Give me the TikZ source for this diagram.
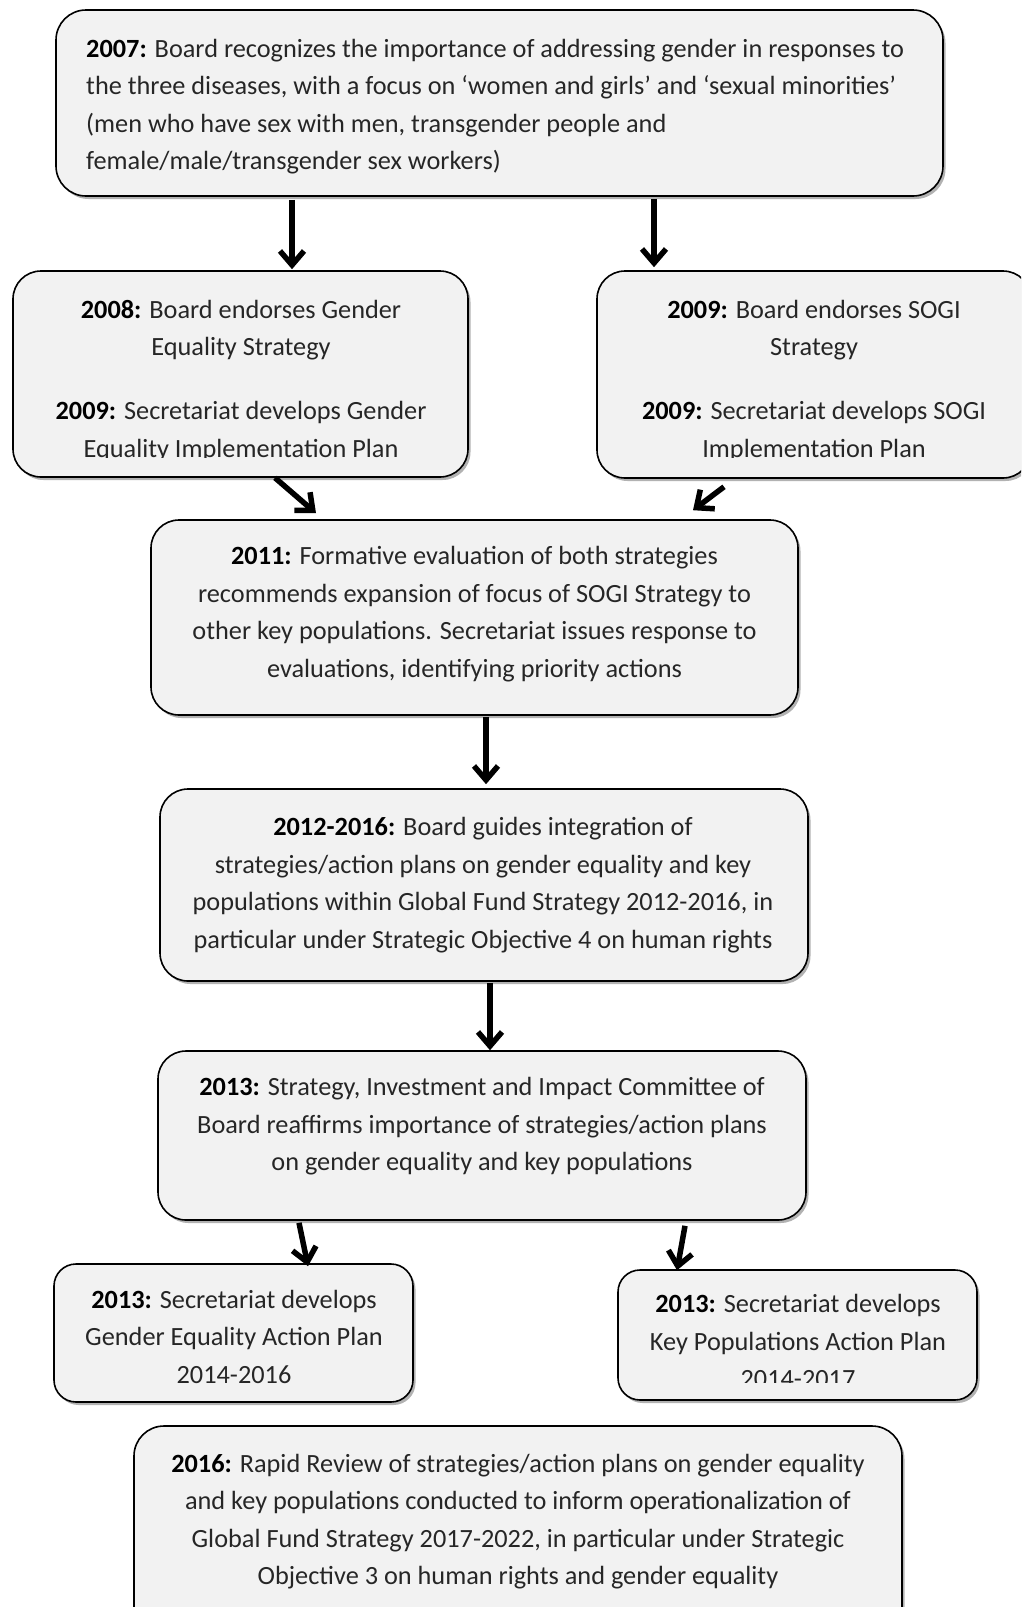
\documentclass[tikz,border=0pt]{standalone}
\usepackage{fontspec}
\setmainfont{Carlito}
\usetikzlibrary{arrows.meta,shadows}
\definecolor{boxfill}{HTML}{F2F2F2}
\definecolor{bodytext}{HTML}{262626}
\newcommand{\yr}[1]{\textcolor{black}{\textbf{#1}}}
\begin{document}
\begin{tikzpicture}[x=1pt,y=-1pt,
  box/.style={draw=black,line width=1.6pt,fill=boxfill,inner sep=0pt,
    drop shadow={shadow xshift=2.5pt,shadow yshift=-3pt,opacity=0.3,fill=black}},
  txt/.style={align=center,inner sep=0pt,text=bodytext,font=\fontsize{26.3}{37.5}\selectfont},
  arr/.style={line width=5.5pt,-{Straight Barb[length=14pt,width=24pt]}}]
\useasboundingbox (0,0) rectangle (1021,1607);
\fill[white] (0,0) rectangle (1021,1607);
\clip (0,0) rectangle (1021,1607);

% boxes
\node[box,rounded corners=30pt,minimum width=887pt,minimum height=186pt] (b1) at (499.5,103) {};
\node[box,rounded corners=28pt,minimum width=455pt,minimum height=206pt] (b2) at (240.5,374) {};
\node[box,rounded corners=28pt,minimum width=434pt,minimum height=207pt] (b3) at (814,374.5) {};
\node[box,rounded corners=28pt,minimum width=647pt,minimum height=195pt] (b4) at (474.5,617.5) {};
\node[box,rounded corners=28pt,minimum width=648pt,minimum height=192pt] (b5) at (484,885) {};
\node[box,rounded corners=28pt,minimum width=648pt,minimum height=169pt] (b6) at (482,1135.5) {};
\node[box,rounded corners=22pt,minimum width=359pt,minimum height=138pt] (b7) at (233.5,1333) {};
\node[box,rounded corners=22pt,minimum width=359pt,minimum height=130pt] (b8) at (797.5,1335) {};
\node[box,rounded corners=30pt,minimum width=768pt,minimum height=224pt] (b9) at (518,1538) {};

% texts
\node[txt,align=left,anchor=west] (t1) at (86,106.5) {\yr{2007:} Board recognizes the importance of addressing gender in responses to\\the three diseases, with a focus on ‘women and girls’ and ‘sexual minorities’\\(men who have sex with men, transgender people and\\female/male/transgender sex workers)};
\begin{scope}
\clip (13,271) rectangle (468,457);
\node[txt] (t2) at (241,380.5) {\yr{2008:} Board endorses Gender\\Equality Strategy\\[26.5pt]\yr{2009:} Secretariat develops Gender\\Equality Implementation Plan};
\end{scope}
\begin{scope}
\clip (597,271) rectangle (1021,457);
\node[txt] (t3) at (814,380.5) {\yr{2009:} Board endorses SOGI\\Strategy\\[26.5pt]\yr{2009:} Secretariat develops SOGI\\Implementation Plan};
\end{scope}
\node[txt] (t4) at (474.5,614) {\yr{2011:} Formative evaluation of both strategies\\recommends expansion of focus of SOGI Strategy to\\other key populations. Secretariat issues response to\\evaluations, identifying priority actions};
\node[txt] (t5) at (483,885) {\yr{2012-2016:} Board guides integration of\\strategies/action plans on gender equality and key\\populations within Global Fund Strategy 2012-2016, in\\particular under Strategic Objective 4 on human rights};
\node[txt] (t6) at (482,1126.5) {\yr{2013:} Strategy, Investment and Impact Committee of\\Board reaffirms importance of strategies/action plans\\on gender equality and key populations};
\node[txt] (t7) at (234,1336.5) {\yr{2013:} Secretariat develops\\Gender Equality Action Plan\\2014-2016};
\begin{scope}
\clip (618,1270) rectangle (977,1382);
\node[txt] (t8) at (798,1341) {\yr{2013:} Secretariat develops\\Key Populations Action Plan\\2014-2017};
\end{scope}
\node[txt] (t9) at (518,1521.5) {\yr{2016:} Rapid Review of strategies/action plans on gender equality\\and key populations conducted to inform operationalization of\\Global Fund Strategy 2017-2022, in particular under Strategic\\Objective 3 on human rights and gender equality};

% arrows
\draw[arr] ([xshift=-207.5pt,yshift=-3pt]b1.south) -- ([xshift=51.5pt,yshift=1pt]b2.north);
\draw[arr] ([xshift=154.5pt,yshift=-2pt]b1.south) -- ([xshift=-160pt,yshift=3pt]b3.north);
\draw[arr] ([xshift=34.5pt]b2.south) -- ([xshift=-158.5pt,yshift=6pt]b4.north);
\draw[arr] ([xshift=-90pt,yshift=-8pt]b3.south) -- ([xshift=218.5pt,yshift=9pt]b4.north);
\draw[arr] ([xshift=11.5pt,yshift=-1pt]b4.south) -- ([xshift=2pt,yshift=4pt]b5.north);
\draw[arr] ([xshift=6pt,yshift=-1pt]b5.south) -- ([xshift=8pt]b6.north);
\draw[arr] ([xshift=-183pt,yshift=-2pt]b6.south) -- ([xshift=74.5pt,yshift=-3pt]b7.north);
\draw[arr] ([xshift=203pt,yshift=-5pt]b6.south) -- ([xshift=-120.5pt,yshift=-1pt]b8.north);
\end{tikzpicture}
\end{document}
